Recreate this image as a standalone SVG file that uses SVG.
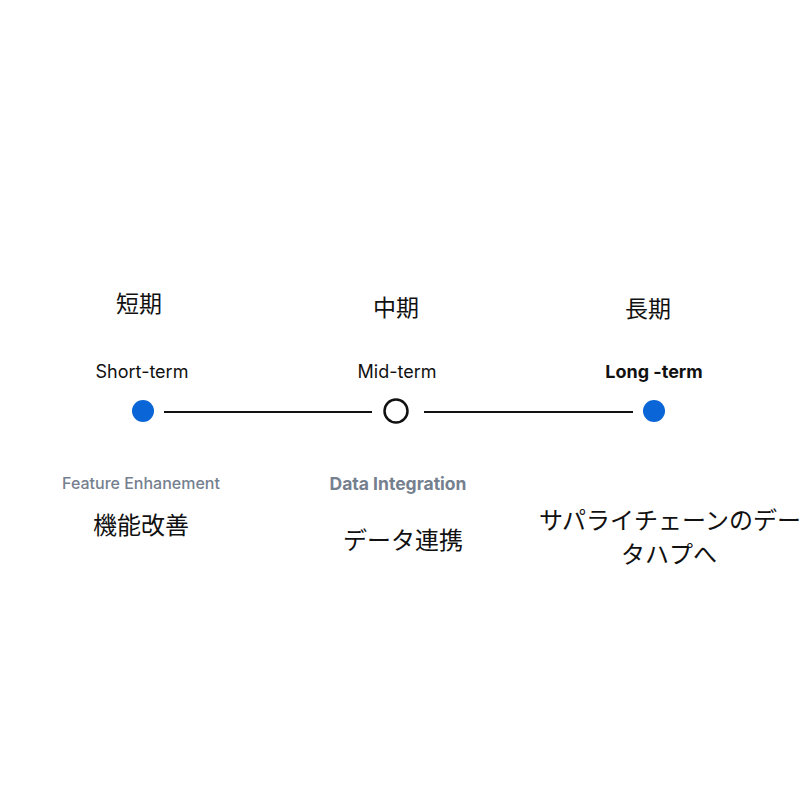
<svg xmlns="http://www.w3.org/2000/svg" width="800" height="800" viewBox="0 0 800 800">
<style>
.jp{font-family:"Noto Sans CJK JP","Noto Sans",sans-serif;fill:#111;text-anchor:middle}
.en{font-family:"Inter","Liberation Sans",sans-serif;font-size:18px;fill:#111;text-anchor:middle}
.sub{font-family:"Inter","Liberation Sans",sans-serif;font-size:16px;fill:#75808f;text-anchor:middle;font-weight:500}
.dot{fill:#0a66d6}
.line{stroke:#111;stroke-width:2}
</style>
<rect width="800" height="800" fill="#fff"/>
<g id="connectors">
<line class="line" x1="164" y1="412" x2="372" y2="412"/>
<line class="line" x1="424" y1="412" x2="633" y2="412"/>
</g>
<g id="short">
<text class="jp" x="139" y="312" font-size="23">短期</text>
<text class="en" x="142" y="378">Short-term</text>
<circle class="dot" cx="143" cy="411" r="11"/>
<text class="sub" x="141" y="489">Feature Enhanement</text>
<text class="jp" x="141" y="534" font-size="24">機能改善</text>
</g>
<g id="mid">
<text class="jp" x="396" y="316" font-size="23">中期</text>
<text class="en" x="397" y="378">Mid-term</text>
<circle cx="396" cy="411" r="11.5" fill="#fff" stroke="#111" stroke-width="2.5"/>
<text class="sub" x="398" y="490" style="font-size:17.5px;font-weight:700">Data Integration</text>
<text class="jp" x="403" y="549" font-size="24">データ連携</text>
</g>
<g id="long">
<text class="jp" x="648" y="317" font-size="23">長期</text>
<text class="en" x="654" y="378" style="font-weight:700">Long -term</text>
<circle class="dot" cx="654" cy="411" r="11"/>
<text class="jp" x="670" y="529" font-size="24">サパライチェーンのデー</text>
<text class="jp" x="669" y="563" font-size="24">タハプへ</text>
</g>
</svg>
